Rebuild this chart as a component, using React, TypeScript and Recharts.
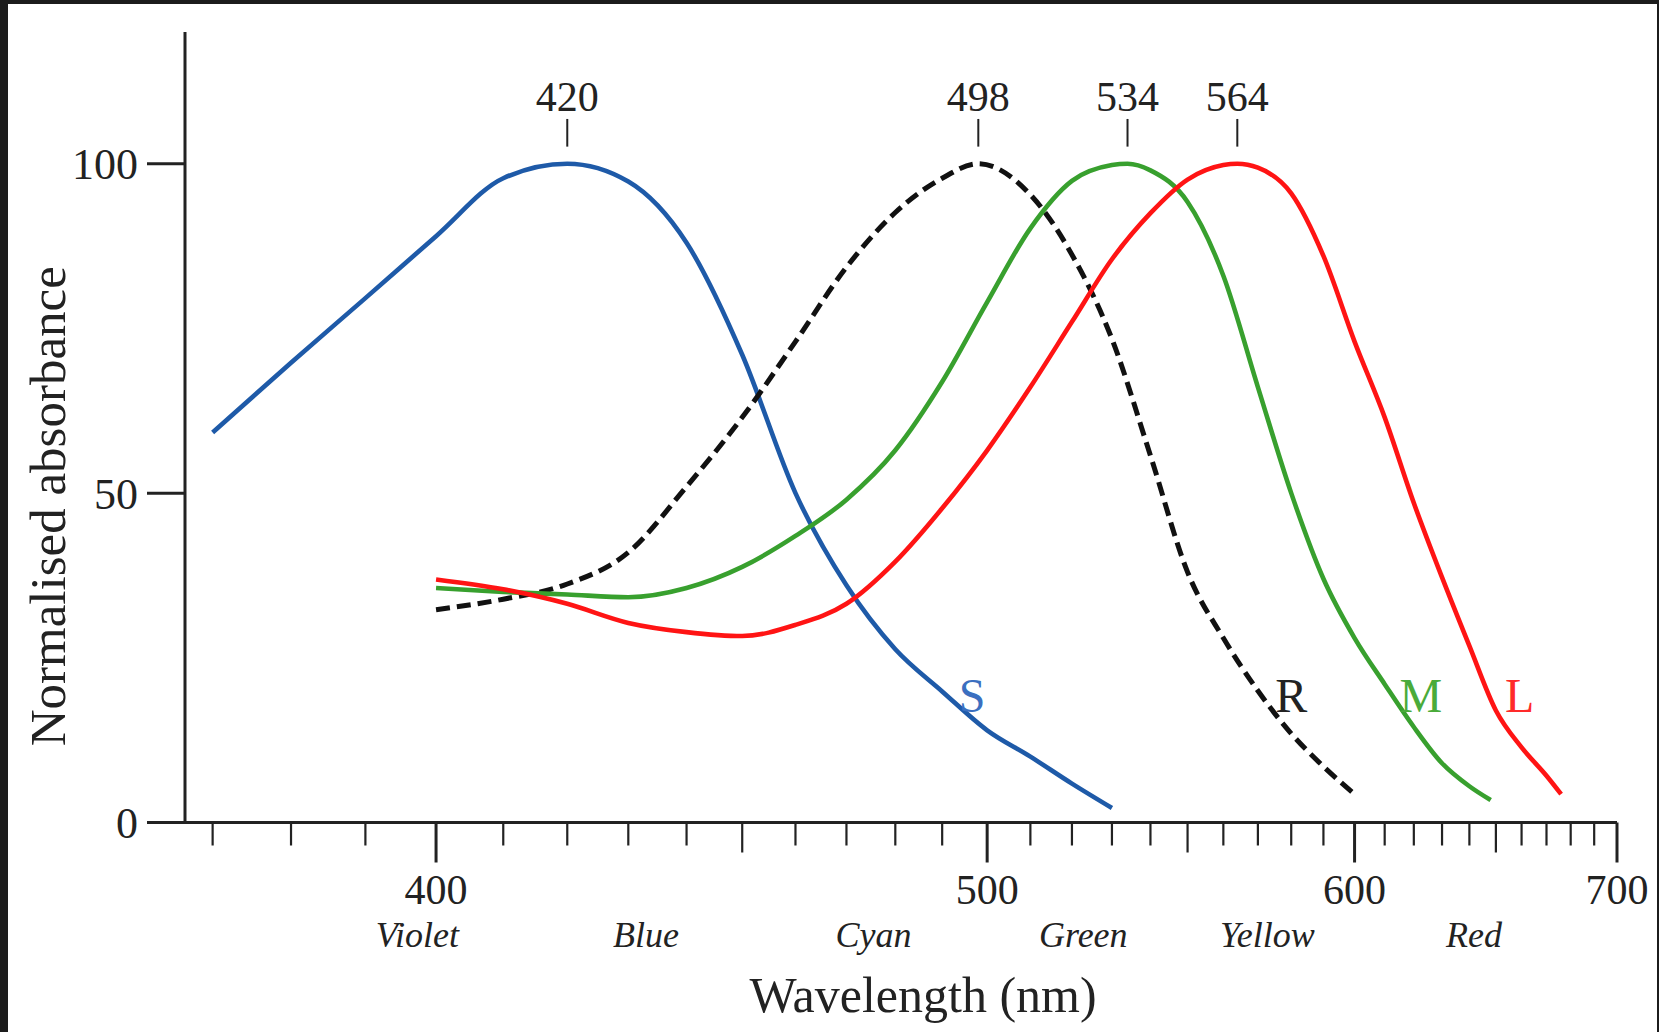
import React from "react";
import { LineChart, Line, XAxis, YAxis, ReferenceLine, ReferenceDot, Label } from "recharts";

// absorbance curves (wavelength in nm, value in %)
const sWavelength = [370, 380, 390, 400, 410, 420, 430, 440, 450, 460, 470, 480, 490, 500, 510, 520, 530];
const sAbsorbance = [59.2, 69.8, 79.6, 89, 97.8, 100, 97.3, 88, 71, 50, 36, 26.3, 19.9, 14, 10, 5.9, 2.2];

const rWavelength = [400, 410, 420, 430, 440, 450, 460, 470, 480, 490, 498, 510, 520, 530, 540, 550, 560, 570, 580, 590, 600];
const rAbsorbance = [32.3, 33.9, 36.2, 41, 51, 61.5, 73, 84.3, 92.6, 97.8, 100, 95.3, 86.2, 73.4, 55.7, 38, 28, 20, 13.5, 8.5, 4.3];

const mWavelength = [400, 410, 420, 430, 440, 450, 460, 470, 480, 490, 500, 510, 520, 530, 534, 540, 550, 560, 570, 580, 590, 600, 610, 620, 630, 640, 648];
const mAbsorbance = [35.6, 35.0, 34.6, 34.2, 35.6, 38.8, 43.5, 49, 56.5, 66.9, 79, 90.2, 97.4, 99.8, 100, 99, 94.2, 83, 66.1, 50, 37, 28, 21, 14.5, 9, 5.5, 3.4];

const lWavelength = [400, 410, 420, 430, 440, 450, 460, 470, 480, 490, 500, 510, 520, 530, 540, 550, 560, 564, 570, 580, 590, 600, 610, 620, 630, 640, 650, 660, 670, 676];
const lAbsorbance = [36.9, 35.4, 33.2, 30.3, 28.9, 28.3, 30, 33.2, 39.6, 47.7, 56.5, 66.1, 76, 85.5, 92.5, 97.6, 99.8, 100, 99.4, 95.5, 86, 73, 61.5, 48.5, 37.2, 26.8, 17, 11.4, 7.1, 4.3];

const peakWavelengths = [420, 498, 534, 564];

const tickWavelengths = [370, 380, 390, 400, 410, 420, 430, 440, 450, 460, 470, 480, 490, 500, 510, 520, 530, 540, 550, 560, 570, 580, 590, 600, 610, 620, 630, 640, 650, 660, 670, 680, 690, 700];
const labelledTicks = [400, 500, 600, 700];
const midTicks = [450, 550, 650];

const bandNames = ["Violet", "Blue", "Cyan", "Green", "Yellow", "Red"];
const bandCentres = [397.3, 433, 475.5, 522.8, 572.8, 641.7];

const yTicks = [0, 50, 100];

// axis is linear in 1/wavelength
const toU = (wl: number) => 1000 / wl;
const series = (wl: number[], vals: number[]) => wl.map((w, i) => ({ u: toU(w), v: vals[i] }));

const FONT = "'Liberation Serif', 'Times New Roman', serif";
const INK = "#222";

const curves = [
  { name: "S", data: series(sWavelength, sAbsorbance), color: "#1e5aa8", text: "#3b6fc0", at: [496.6, 19.3], dash: undefined },
  { name: "R", data: series(rWavelength, rAbsorbance), color: "#111", text: "#222", at: [580, 19.3], dash: "14 7" },
  { name: "M", data: series(mWavelength, mAbsorbance), color: "#38a02e", text: "#4aab3a", at: [622.5, 19.3], dash: undefined },
  { name: "L", data: series(lWavelength, lAbsorbance), color: "#ff1414", text: "#ff2a2a", at: [659.2, 19.3], dash: undefined },
];

function WavelengthTick(props: any) {
  const { x, y, payload } = props;
  const wl = 1000 / payload.value;
  const band = bandCentres.findIndex((c) => Math.abs(c - wl) < 0.01);
  if (band >= 0) {
    return (
      <text x={x} y={y + 112} textAnchor="middle" dominantBaseline="central"
        fontFamily={FONT} fontStyle="italic" fontSize={36} fill={INK}>
        {bandNames[band]}
      </text>
    );
  }
  const w = Math.round(wl);
  const labelled = labelledTicks.includes(w);
  const len = labelled ? 40 : midTicks.includes(w) ? 30 : 23;
  return (
    <g>
      <line x1={x} x2={x} y1={y} y2={y + len} stroke={INK} strokeWidth={labelled ? 3 : 2.2} />
      {labelled && (
        <text x={x} y={y + 67} textAnchor="middle" dominantBaseline="central"
          fontFamily={FONT} fontSize={42} fill={INK}>
          {w}
        </text>
      )}
    </g>
  );
}

export default function App() {
  const xTicks = [...tickWavelengths, ...bandCentres].map(toU);
  return (
    <div style={{ position: "fixed", inset: 0, background: "#1c1c1c" }}>
      <div style={{ position: "absolute", left: 8, top: 4, width: 1649, height: 1028, background: "#fff" }} />
      <div style={{ position: "absolute", left: 0, top: 0 }}>
        <LineChart width={1659} height={1032} margin={{ top: 32, right: 42, bottom: 0, left: 0 }}>
          <XAxis
            type="number"
            dataKey="u"
            reversed
            domain={[toU(700), toU(366.6)]}
            ticks={xTicks}
            interval={0}
            height={209.5}
            tickSize={0}
            tickMargin={0}
            tickLine={false}
            tick={<WavelengthTick />}
            axisLine={{ stroke: INK, strokeWidth: 3 }}
          >
            <Label
              content={(p: any) => (
                <text x={p.viewBox.x + p.viewBox.width / 2 + 22} y={p.viewBox.y + 172}
                  textAnchor="middle" dominantBaseline="central" fontFamily={FONT} fontSize={50} fill={INK}>
                  Wavelength (nm)
                </text>
              )}
            />
          </XAxis>
          <YAxis
            type="number"
            domain={[0, 120]}
            ticks={yTicks}
            width={185}
            tickSize={38}
            tickMargin={9}
            tick={{ fontFamily: FONT, fontSize: 44, fill: INK }}
            tickLine={{ stroke: INK, strokeWidth: 3 }}
            axisLine={{ stroke: INK, strokeWidth: 3 }}
          >
            <Label
              content={(p: any) => {
                const cx = p.viewBox.x + 48;
                const cy = p.viewBox.y + p.viewBox.height / 2 + 79;
                return (
                  <text x={cx} y={cy} transform={`rotate(-90, ${cx}, ${cy})`} textAnchor="middle"
                    dominantBaseline="central" fontFamily={FONT} fontSize={51} fill={INK}>
                    Normalised absorbance
                  </text>
                );
              }}
            />
          </YAxis>

          {peakWavelengths.map((p) => (
            <ReferenceLine key={"pl" + p} segment={[{ x: toU(p), y: 102.6 }, { x: toU(p), y: 106.8 }]}
              stroke={INK} strokeWidth={2} />
          ))}
          {peakWavelengths.map((p) => (
            <ReferenceDot key={"pt" + p} x={toU(p)} y={110.3} r={0} fill="none" stroke="none"
              label={{ value: String(p), position: "center", fontFamily: FONT, fontSize: 42, fill: INK }} />
          ))}

          {curves.map((c) => (
            <Line
              key={c.name}
              data={c.data}
              dataKey="v"
              type="monotone"
              stroke={c.color}
              strokeWidth={c.dash ? 5 : 4.6}
              strokeDasharray={c.dash}
              dot={false}
              activeDot={false}
              isAnimationActive={false}
            />
          ))}
          {curves.map((c) => (
            <ReferenceDot key={"lb" + c.name} x={toU(c.at[0])} y={c.at[1]} r={0} fill="none" stroke="none"
              label={{ value: c.name, position: "center", fontFamily: FONT, fontSize: 48, fill: c.text }} />
          ))}
        </LineChart>
      </div>
    </div>
  );
}
